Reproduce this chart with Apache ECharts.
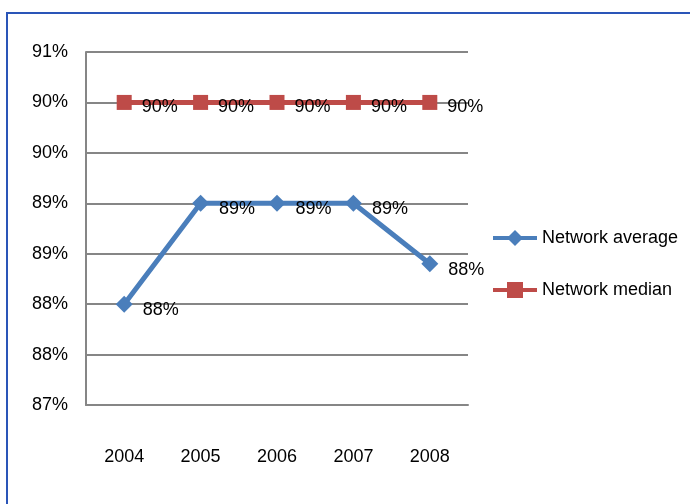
<!DOCTYPE html>
<html lang="en">
<head>
    <meta charset="UTF-8">
    <title>Network average vs median</title>
    <script src="https://cdn.jsdelivr.net/npm/echarts@6/dist/echarts.min.js"></script>
    <style>
        body { margin: 0; background: #fff; }
        #frame { position: absolute; left: 6px; top: 12px; width: 700px; height: 510px; border: 2px solid #2a55b8; box-sizing: border-box; }
        #main { position: absolute; left: 0; top: 0; width: 690px; height: 504px; }
    </style>
</head>
<body>
<div id="frame"></div>
<div id="main"></div>
<script>
    var years = ['2004', '2005', '2006', '2007', '2008'];
    var networkAverage = [88.5, 89.5, 89.5, 89.5, 88.9];
    var networkMedian = [90.5, 90.5, 90.5, 90.5, 90.5];

    var font = '"Liberation Sans", Arial, sans-serif';
    // labels in the source are cut down to whole percents
    function pct(v) { return Math.floor(v + 1e-9) + '%'; }

    var myChart = echarts.init(document.getElementById('main'));
    var option = {
        animation: false,
        textStyle: { fontFamily: font },
        grid: { left: 86, top: 52, width: 382, height: 353, containLabel: false },
        legend: {
            orient: 'vertical',
            left: 491,
            top: 229,
            padding: 0,
            itemWidth: 44,
            itemHeight: 20,
            itemGap: 34,
            lineStyle: { width: 4 },
            textStyle: { fontFamily: font, fontSize: 18, color: '#000' },
            data: ['Network average', 'Network median']
        },
        xAxis: {
            type: 'category',
            data: years,
            boundaryGap: true,
            axisLine: { lineStyle: { color: '#868686', width: 2 } },
            axisTick: { show: false },
            axisLabel: { color: '#000', fontSize: 18, fontFamily: font, margin: 43 }
        },
        yAxis: {
            type: 'value',
            min: 87.5,
            max: 91,
            interval: 0.5,
            axisLine: { show: true, lineStyle: { color: '#868686', width: 2 } },
            axisTick: { show: false },
            splitLine: { lineStyle: { color: '#868686', width: 2 } },
            axisLabel: { color: '#000', fontSize: 18, fontFamily: font, margin: 18, formatter: pct }
        },
        series: [
            {
                name: 'Network average',
                type: 'line',
                data: networkAverage,
                symbol: 'diamond',
                symbolSize: 17,
                itemStyle: { color: '#4a7ebb' },
                lineStyle: { width: 5, color: '#4a7ebb' },
                label: { show: true, position: 'right', offset: [5, 6], color: '#000', fontSize: 18, fontFamily: font, formatter: function (p) { return pct(p.value); } }
            },
            {
                name: 'Network median',
                type: 'line',
                data: networkMedian,
                symbol: 'rect',
                symbolSize: 15,
                itemStyle: { color: '#be4b48' },
                lineStyle: { width: 5, color: '#be4b48' },
                label: { show: true, position: 'right', offset: [5, 5], color: '#000', fontSize: 18, fontFamily: font, formatter: function (p) { return pct(p.value); } }
            }
        ]
    };
    myChart.setOption(option);
</script>
</body>
</html>
